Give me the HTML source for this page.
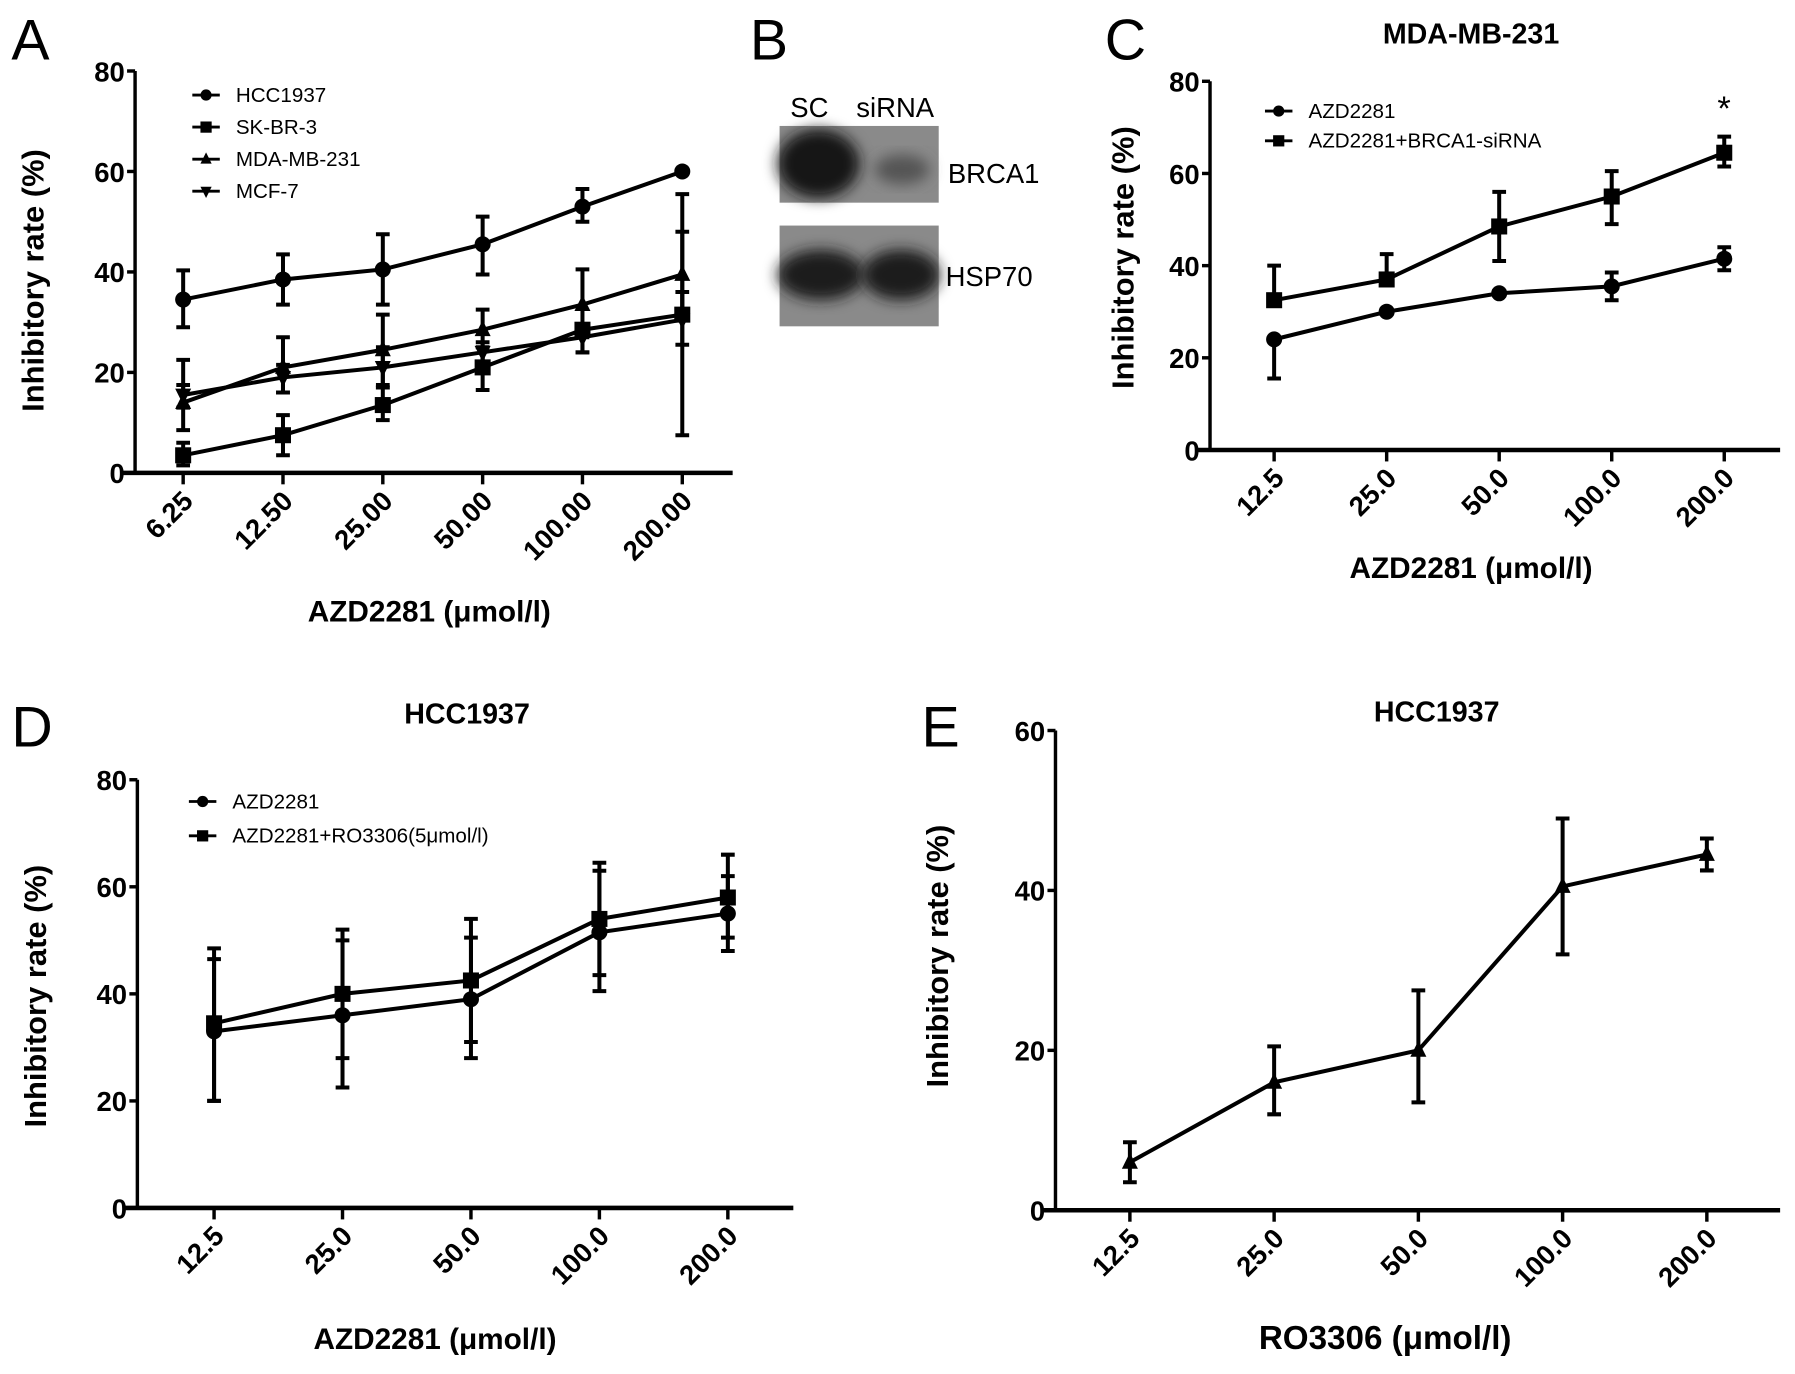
<!DOCTYPE html>
<html><head><meta charset="utf-8"><style>
html,body{margin:0;padding:0;background:#fff;}
svg{display:block;font-family:"Liberation Sans",Arial,sans-serif;}
</style></head><body>
<svg id="fig" width="1795" height="1374" viewBox="0 0 1568 1200" preserveAspectRatio="none" xmlns="http://www.w3.org/2000/svg">
<defs><filter id="blur" x="-30%" y="-30%" width="160%" height="160%"><feGaussianBlur stdDeviation="6"/></filter></defs>
<rect width="1568" height="1200" fill="#fff"/>
<g>
<text x="10" y="52" font-size="50">A</text>
<text x="655" y="52" font-size="50">B</text>
<text x="965" y="52" font-size="50">C</text>
<text x="10" y="652" font-size="50">D</text>
<text x="805" y="652" font-size="50">E</text>
<text x="707" y="102" font-size="24" text-anchor="middle">SC</text>
<text x="782" y="102" font-size="24" text-anchor="middle">siRNA</text>
<rect x="681" y="110" width="139" height="67" fill="#8a8a8a"/>
<ellipse cx="715" cy="143" rx="36" ry="30" fill="#151515" filter="url(#blur)"/>
<ellipse cx="788" cy="148" rx="24" ry="13" fill="#555" filter="url(#blur)"/>
<rect x="681" y="197" width="139" height="88" fill="#8a8a8a"/>
<ellipse cx="717" cy="240" rx="38" ry="22" fill="#1a1a1a" filter="url(#blur)"/>
<ellipse cx="787" cy="240" rx="34" ry="22" fill="#1a1a1a" filter="url(#blur)"/>
<text x="828" y="160" font-size="24">BRCA1</text>
<text x="826" y="250" font-size="24">HSP70</text>
<text x="1506" y="105" font-size="30" text-anchor="middle">*</text>
</g>
</svg>
<script>
// Panel A data
const aCats = ["6.25","12.50","25.00","50.00","100.00","200.00"];
const aHCC = [34.5,38.5,40.5,45.5,53,60];
const aHCCLo = [29,33.5,33.5,39.5,50,60];
const aHCCHi = [40.3,43.5,47.5,51,56.5,60];
const aSK = [3.5,7.5,13.5,21,28.5,31.5];
const aSKLo = [1.5,3.5,10.5,16.5,24,7.5];
const aSKHi = [6,11.5,17,25,29.5,55.5];
const aMDA = [14,21,24.5,28.5,33.5,39.5];
const aMDALo = [8.5,16,17.5,20,27,25.5];
const aMDAHi = [22.5,27,31.5,32.5,40.5,48];
const aMCF = [15.5,19,21,24,27,30.5];
const aMCFLo = [13,16,17,20,24,30.5];
const aMCFHi = [17.5,21.5,25,26,29,36];
const aTicks = [0,20,40,60,80];
// Panel C data
const cCats = ["12.5","25.0","50.0","100.0","200.0"];
const cAZD = [24,30,34,35.5,41.5];
const cAZDLo = [15.5,29.5,33.5,32.5,39];
const cAZDHi = [24,30.5,34.5,38.5,44];
const cSi = [32.5,37,48.5,55,64.5];
const cSiLo = [32.5,37,41,49,61.5];
const cSiHi = [40,42.5,56,60.5,68];
const cTicks = [0,20,40,60,80];
// Panel D data
const dCats = ["12.5","25.0","50.0","100.0","200.0"];
const dAZD = [33,36,39,51.5,55];
const dAZDLo = [20,22.5,28,40.5,48];
const dAZDHi = [46.5,50,50.5,63,62];
const dRO = [34.5,40,42.5,54,58];
const dROLo = [20,28,31,43.5,50.5];
const dROHi = [48.5,52,54,64.5,66];
const dTicks = [0,20,40,60,80];
// Panel E data
const eCats = ["12.5","25.0","50.0","100.0","200.0"];
const eRO = [6,16,20,40.5,44.5];
const eROLo = [3.5,12,13.5,32,42.5];
const eROHi = [8.5,20.5,27.5,49,46.5];
const eTicks = [0,20,40,60];

const NS="http://www.w3.org/2000/svg";
const svg=document.getElementById('fig');
function mk(tag,attrs,parent){const e=document.createElementNS(NS,tag);for(const k in attrs)e.setAttribute(k,attrs[k]);(parent||svg).appendChild(e);return e;}

function panel(cfg){
  const g=mk('g',{});
  
  
  const y=v=>cfg.y0+(cfg.y1-cfg.y0)*(v/cfg.ymax);
  const x=i=>cfg.xs+i*cfg.dx;
  const ya=mk('line',{x1:cfg.ax,y1:cfg.y1,x2:cfg.ax,y2:cfg.y0,stroke:'#000','stroke-width':3},g);
  
  
  const xa=mk('line',{x1:cfg.ax-12,y1:cfg.y0,x2:cfg.axEnd,y2:cfg.y0,stroke:'#000','stroke-width':4},g);
  
  
  cfg.ticks.forEach(t=>{
    mk('line',{x1:cfg.ax-7,y1:y(t),x2:cfg.ax,y2:y(t),stroke:'#000','stroke-width':3},g);
    const tl=mk('text',{x:cfg.ax-9,y:y(t)+9,'font-size':24,'font-weight':'bold','text-anchor':'end'},g);
    tl.textContent=t;
    
    
  });
  cfg.cats.forEach((c,i)=>{
    mk('line',{x1:x(i),y1:cfg.y0,x2:x(i),y2:cfg.y0+10,stroke:'#000','stroke-width':3},g);
    const tl=mk('text',{x:x(i)+10,y:cfg.y0+26,'font-size':24,'font-weight':'bold','text-anchor':'end',transform:`rotate(-45 ${x(i)+10} ${cfg.y0+26})`},g);
    tl.textContent=c;
    
    
  });
  const xt=mk('text',{x:cfg.xtX,y:cfg.xtY,'font-size':cfg.xtSize||26,'font-weight':'bold','text-anchor':'middle'},g);
  xt.textContent=cfg.xtitle;
  
  
  const yt=mk('text',{x:0,y:0,'font-size':27,'font-weight':'bold','text-anchor':'middle',transform:`translate(${cfg.ytX},${cfg.ytY}) rotate(-90)`},g);
  yt.textContent=cfg.ytitle;
  
  
  if(cfg.title){
    const tt=mk('text',{x:cfg.titleX,y:cfg.titleY,'font-size':25,'font-weight':'bold','text-anchor':'middle'},g);
    tt.textContent=cfg.title;
    
    
  }
  cfg.series.forEach((s,si)=>{
    const sg=mk('g',{},g);
    
    
    const pts=s.v.map((v,i)=>x(i)+','+y(v)).join(' ');
    const pl=mk('polyline',{points:pts,fill:'none',stroke:'#000','stroke-width':3.5},sg);
    
    
    s.v.forEach((v,i)=>{
      const lo=y(s.lo[i]),hi=y(s.hi[i]);
      const eb=mk('path',{d:`M${x(i)},${lo}V${hi}M${x(i)-6},${lo}H${x(i)+6}M${x(i)-6},${hi}H${x(i)+6}`,stroke:'#000','stroke-width':3.5,fill:'none'},sg);
      
      
      const m=marker(s.shape,x(i),y(v),sg);
      
      
    });
  });
  if(cfg.legend){
    cfg.series.forEach((s,si)=>{
      const ly=cfg.legY+si*cfg.legDy;
      const lg=mk('g',{},g);
      
      
      mk('line',{x1:cfg.legX,y1:ly,x2:cfg.legX+24,y2:ly,stroke:'#000','stroke-width':2.5},lg);
      marker(s.shape,cfg.legX+12,ly,lg,0.7);
      const lt=mk('text',{x:cfg.legX+38,y:ly+6,'font-size':18},lg);
      lt.textContent=s.label;
    });
  }
}
function marker(shape,cx,cy,p,sc){
  sc=sc||1;const r=7*sc;
  if(shape==='circle')return mk('circle',{cx:cx,cy:cy,r:r,fill:'#000'},p);
  if(shape==='square')return mk('rect',{x:cx-r,y:cy-r,width:2*r,height:2*r,fill:'#000'},p);
  if(shape==='tri')return mk('polygon',{points:`${cx},${cy-r*1.2} ${cx-r},${cy+r*0.8} ${cx+r},${cy+r*0.8}`,fill:'#000'},p);
  return mk('polygon',{points:`${cx},${cy+r*1.2} ${cx-r},${cy-r*0.8} ${cx+r},${cy-r*0.8}`,fill:'#000'},p);
}

panel({name:'panel-a-chart',y0:413,y1:62,ymax:80,ax:118,axEnd:640,xs:160,dx:87.2,ticks:aTicks,cats:aCats,
 xtitle:'AZD2281 (\u03bcmol/l)',xtX:375,xtY:543,ytitle:'Inhibitory rate (%)',ytX:38,ytY:245,
 legend:true,legX:168,legY:83,legDy:28,
 series:[{key:'hcc1937',label:'HCC1937',shape:'circle',v:aHCC,lo:aHCCLo,hi:aHCCHi},
  {key:'sk-br-3',label:'SK-BR-3',shape:'square',v:aSK,lo:aSKLo,hi:aSKHi},
  {key:'mda-mb-231',label:'MDA-MB-231',shape:'tri',v:aMDA,lo:aMDALo,hi:aMDAHi},
  {key:'mcf-7',label:'MCF-7',shape:'itri',v:aMCF,lo:aMCFLo,hi:aMCFHi}]});
panel({name:'panel-c-chart',y0:393,y1:71,ymax:80,ax:1057,axEnd:1555,xs:1113,dx:98.3,ticks:cTicks,cats:cCats,
 xtitle:'AZD2281 (\u03bcmol/l)',xtX:1285,xtY:505,ytitle:'Inhibitory rate (%)',ytX:990,ytY:225,
 title:'MDA-MB-231',titleX:1285,titleY:38,
 legend:true,legX:1105,legY:97,legDy:26,
 series:[{key:'azd2281',label:'AZD2281',shape:'circle',v:cAZD,lo:cAZDLo,hi:cAZDHi},
  {key:'azd2281-brca1-sirna',label:'AZD2281+BRCA1-siRNA',shape:'square',v:cSi,lo:cSiLo,hi:cSiHi}]});
panel({name:'panel-d-chart',y0:1055,y1:681,ymax:80,ax:120,axEnd:693,xs:187,dx:112.2,ticks:dTicks,cats:dCats,
 xtitle:'AZD2281 (\u03bcmol/l)',xtX:380,xtY:1178,ytitle:'Inhibitory rate  (%)',ytX:40,ytY:870,
 title:'HCC1937',titleX:408,titleY:632,
 legend:true,legX:165,legY:700,legDy:30,
 series:[{key:'azd2281',label:'AZD2281',shape:'circle',v:dAZD,lo:dAZDLo,hi:dAZDHi},
  {key:'azd2281-ro3306',label:'AZD2281+RO3306(5\u03bcmol/l)',shape:'square',v:dRO,lo:dROLo,hi:dROHi}]});
panel({name:'panel-e-chart',y0:1057,y1:638,ymax:60,ax:922,axEnd:1555,xs:987,dx:126,ticks:eTicks,cats:eCats,
 xtitle:'RO3306 (\u03bcmol/l)',xtX:1210,xtY:1178,xtSize:29,ytitle:'Inhibitory rate  (%)',ytX:828,ytY:835,
 title:'HCC1937',titleX:1255,titleY:630,
 legend:false,
 series:[{key:'ro3306',label:'RO3306',shape:'tri',v:eRO,lo:eROLo,hi:eROHi}]});
</script>
</body></html>
